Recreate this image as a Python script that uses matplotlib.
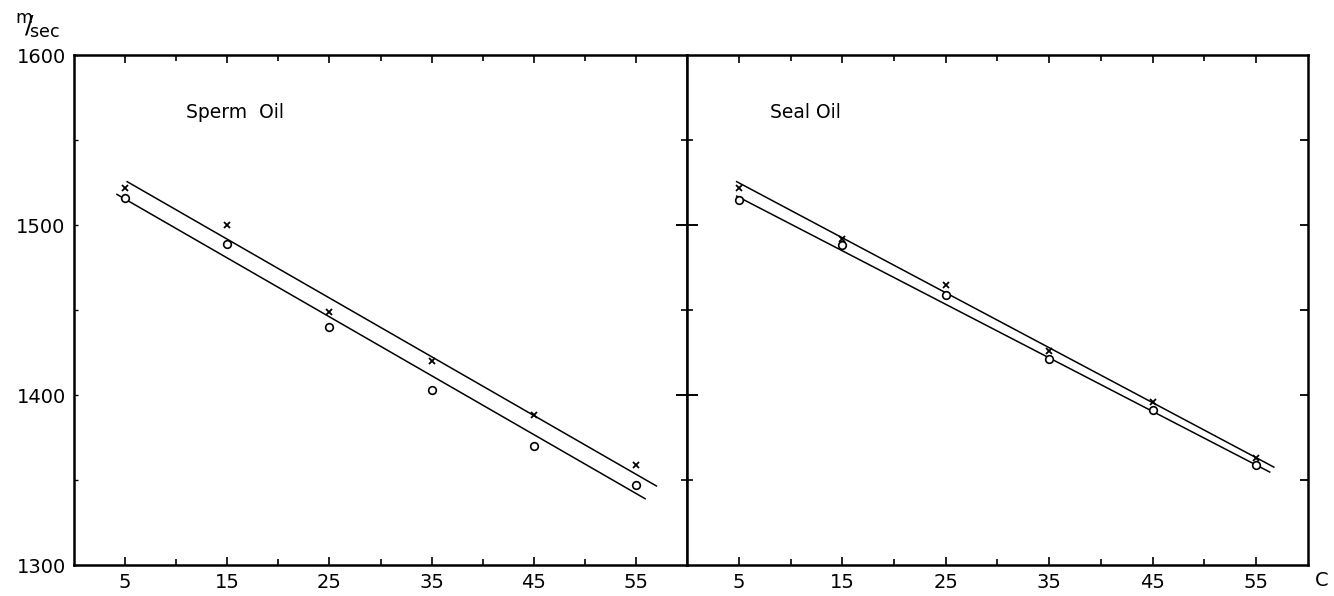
import matplotlib
matplotlib.use("Agg")
import matplotlib.pyplot as plt
from matplotlib.ticker import FixedLocator, NullLocator

plt.rcParams["font.family"] = ["DejaVu Sans"]
plt.rcParams["mathtext.fontset"] = "dejavusans"

# temperatures (C)
temps = [5, 15, 25, 35, 45, 55]

# sound velocity (m/sec), crosses and circles
sperm_cross = [1522, 1500, 1449, 1420, 1388, 1359]
sperm_circle = [1516, 1489, 1440, 1403, 1370, 1347]
seal_cross = [1522, 1492, 1465, 1426, 1396, 1363]
seal_circle = [1515, 1488, 1459, 1421, 1391, 1359]

# fitted lines (start/end in data units)
sperm_upper_x = [5.2, 57.0]
sperm_upper_y = [1525.5, 1346.5]
sperm_lower_x = [4.2, 55.9]
sperm_lower_y = [1518.0, 1339.0]
seal_upper_x = [4.8, 56.7]
seal_upper_y = [1525.5, 1357.6]
seal_lower_x = [4.8, 56.3]
seal_lower_y = [1517.0, 1354.7]

x_major = [5, 15, 25, 35, 45, 55]
x_minor = [10, 20, 30, 40, 50]
y_major = [1300, 1400, 1500, 1600]
y_minor = [1350, 1450, 1550]
y_inner = [1350, 1400, 1450, 1500, 1550]

rect1 = [0.0555, 0.052, 0.4595, 0.8557]
rect2 = [0.515, 0.052, 0.4655, 0.8557]

fig = plt.figure(figsize=(13.34, 5.96), dpi=100)
ax1 = fig.add_axes(rect1)
ax2 = fig.add_axes(rect2)

panels = [
    (ax1, "Sperm  Oil", 11.0, sperm_cross, sperm_circle,
     (sperm_upper_x, sperm_upper_y), (sperm_lower_x, sperm_lower_y)),
    (ax2, "Seal Oil", 8.0, seal_cross, seal_circle,
     (seal_upper_x, seal_upper_y), (seal_lower_x, seal_lower_y)),
]

for ax, title, tx, cross, circ, up, lo in panels:
    ax.set_xlim(0, 60)
    ax.set_ylim(1300, 1600)
    ax.plot(up[0], up[1], color="black", lw=1.1)
    ax.plot(lo[0], lo[1], color="black", lw=1.1)
    ax.plot(temps, cross, linestyle="none", marker="x", ms=5, mew=1.3,
            color="black")
    ax.plot(temps, circ, linestyle="none", marker="o", ms=5.5, mew=1.2,
            mfc="white", mec="black")
    ax.text(tx, 1566, title, fontsize=13.5, ha="left", va="center")
    for s in ax.spines.values():
        s.set_linewidth(1.8)
    ax.xaxis.set_major_locator(FixedLocator(x_major))
    ax.xaxis.set_minor_locator(FixedLocator(x_minor))
    ax.tick_params(axis="x", which="both", direction="in", top=True,
                   labelsize=14, pad=6, width=1.2)
    ax.tick_params(axis="x", which="major", length=6)
    ax.tick_params(axis="x", which="minor", length=4)

# left panel: labelled y axis, small inward ticks
ax1.yaxis.set_major_locator(FixedLocator(y_major))
ax1.yaxis.set_minor_locator(FixedLocator(y_minor))
ax1.tick_params(axis="y", which="both", direction="in", left=True,
                right=False, length=3, width=1.0, labelsize=14, pad=6)

# right spine: small inward ticks
ax2.yaxis.set_major_locator(FixedLocator(y_inner))
ax2.yaxis.set_minor_locator(NullLocator())
ax2.yaxis.tick_right()
ax2.tick_params(axis="y", direction="in", left=False, right=True,
                labelleft=False, labelright=False, length=6, width=1.3)

# divider: ticks crossing the line
axd = fig.add_axes(rect2, frameon=False)
axd.set_ylim(1300, 1600)
axd.set_xticks([])
axd.yaxis.set_major_locator(FixedLocator([1400, 1500]))
axd.yaxis.set_minor_locator(FixedLocator(y_minor))
axd.tick_params(axis="y", which="major", direction="inout", left=True,
                right=False, labelleft=False, length=16, width=1.4)
axd.tick_params(axis="y", which="minor", direction="inout", left=True,
                right=False, length=9, width=1.2)

fig.text(1322 / 1334, 1 - 580 / 596, "C", fontsize=14, ha="center",
         va="center")
fig.text(0.011, 0.955, r"$^{\mathrm{m}}\!\!/\!_{\mathrm{sec}}$",
         fontsize=18, ha="left", va="center")

fig.savefig("out.png", dpi=100)
